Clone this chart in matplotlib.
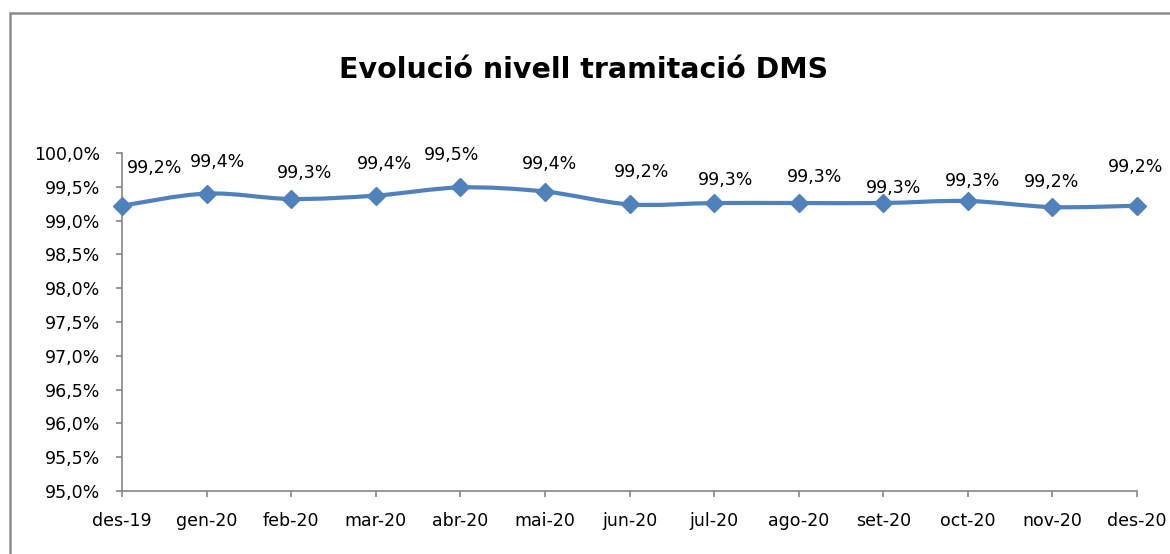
import numpy as np
import matplotlib
matplotlib.use("Agg")
import matplotlib.pyplot as plt
from matplotlib.path import Path
from matplotlib.patches import PathPatch, Rectangle
from matplotlib.ticker import FuncFormatter

# data
months = ["des-19", "gen-20", "feb-20", "mar-20", "abr-20", "mai-20", "jun-20",
          "jul-20", "ago-20", "set-20", "oct-20", "nov-20", "des-20"]
level = [99.22, 99.40, 99.32, 99.37, 99.49, 99.43, 99.24,
         99.26, 99.26, 99.26, 99.29, 99.20, 99.22]

# label offsets in pixels (dx, dy up), mimicking Excel's placement
label_off = [(33, 37.5), (11, 32), (13, 25.5), (9, 32), (-8.5, 32), (5, 28), (12.5, 32.5),
             (11, 23), (16, 26.5), (10.5, 15.5), (5, 19.5), (-0.5, 25.5), (-1, 38.5)]

blue = "#4F81BD"
gray = "#868686"

fig = plt.figure(figsize=(11.7, 5.54), dpi=100)
ax = fig.add_axes([122 / 1170, 1 - 491 / 554, (1137 - 122) / 1170, (491 - 153) / 554])

x = np.arange(len(months))
y = np.array(level)

# smoothed line (catmull-rom style bezier, like excel's smoothed line)
verts = [(x[0], y[0])]
codes = [Path.MOVETO]
for i in range(len(x) - 1):
    p0 = np.array([x[max(i - 1, 0)], y[max(i - 1, 0)]])
    p1 = np.array([x[i], y[i]])
    p2 = np.array([x[i + 1], y[i + 1]])
    p3 = np.array([x[min(i + 2, len(x) - 1)], y[min(i + 2, len(x) - 1)]])
    c1 = p1 + (p2 - p0) / 6
    c2 = p2 - (p3 - p1) / 6
    verts += [tuple(c1), tuple(c2), tuple(p2)]
    codes += [Path.CURVE4] * 3
ax.add_patch(PathPatch(Path(verts, codes), facecolor="none", edgecolor=blue,
                       lw=3, capstyle="round", joinstyle="round", clip_on=False))
ax.plot(x, y, ls="none", marker="D", ms=9, color=blue, clip_on=False, zorder=3)

for i, v in enumerate(level):
    dx, dy = label_off[i]
    ax.annotate(f"{v:.1f}%".replace(".", ","), (x[i], y[i]),
                xytext=(dx * 0.72, dy * 0.72), textcoords="offset points",
                ha="center", va="center", fontsize=12.5, color="black")

ax.set_xlim(0, len(months) - 1)
ax.set_ylim(95, 100)
ax.set_xticks(x)
ax.set_xticklabels(months)
ax.set_yticks(np.arange(95, 100.01, 0.5))
ax.yaxis.set_major_formatter(FuncFormatter(lambda v, p: f"{v:.1f}%".replace(".", ",")))

for side in ["top", "right"]:
    ax.spines[side].set_visible(False)
for side in ["left", "bottom"]:
    ax.spines[side].set_color(gray)
    ax.spines[side].set_linewidth(1.2)
ax.tick_params(axis="both", colors=gray, length=4, width=1.2, labelsize=12.5,
               labelcolor="black")
ax.tick_params(axis="x", pad=11)
ax.tick_params(axis="y", pad=12)

fig.text(584 / 1170, 1 - 70 / 554, "Evolució nivell tramitació DMS",
         ha="center", va="center", fontsize=20.5, fontweight="bold")

# outer chart border
fig.patches.append(Rectangle((10 / 1170, -0.1), 1.2, 1.1 - 13 / 554,
                             transform=fig.transFigure, fill=False,
                             edgecolor="#8C8C8C", lw=1.8))

fig.savefig("out.png", dpi=100)
